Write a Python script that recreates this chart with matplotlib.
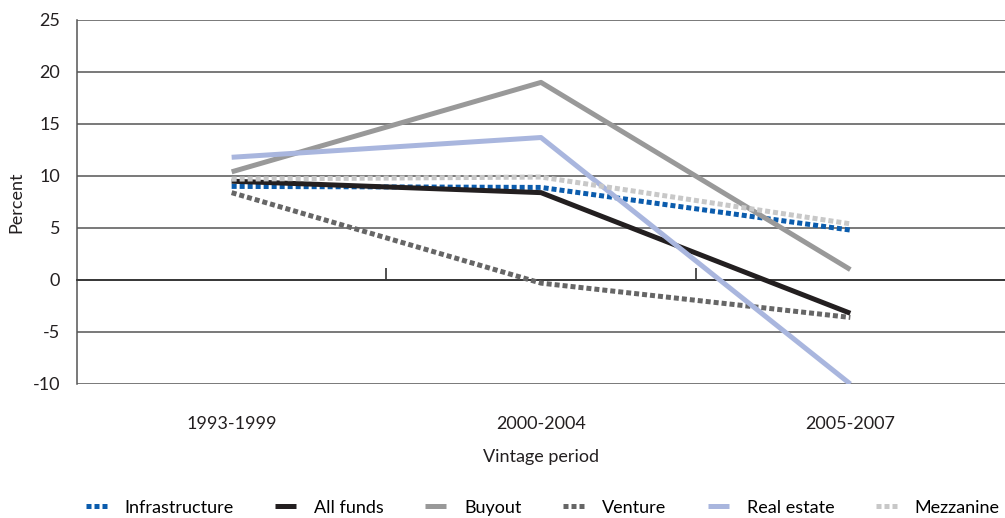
import matplotlib
matplotlib.use("Agg")
import matplotlib.pyplot as plt

periods = ["1993-1999", "2000-2004", "2005-2007"]

infrastructure = [9.0, 8.9, 4.8]
all_funds = [9.5, 8.4, -3.2]
buyout = [10.4, 19.0, 1.0]
venture = [8.4, -0.3, -3.6]
real_estate = [11.8, 13.7, -10.0]
mezzanine = [9.7, 9.9, 5.4]

names = ["Infrastructure", "All funds", "Buyout", "Venture", "Real estate", "Mezzanine"]
series = [infrastructure, all_funds, buyout, venture, real_estate, mezzanine]
colors = ["#0b5cad", "#231f20", "#999999", "#666666", "#a9b6de", "#c8c8c8"]
dotted = (0, (1, 0.6))
styles = [dotted, "-", "-", dotted, "-", dotted]

plt.rcParams["font.family"] = ["Lato", "DejaVu Sans"]
plt.rcParams["axes.unicode_minus"] = False

fig = plt.figure(figsize=(10.05, 5.18), dpi=100)
ax = fig.add_axes([0.0766, 0.2587, 0.9234, 0.7027])

x = list(range(len(periods)))
draw_order = [5, 0, 3, 2, 1, 4]
for i in draw_order:
    ax.plot(x, series[i], color=colors[i], linestyle=styles[i], lw=3.6,
            label=names[i], zorder=3 + i * 0.01, solid_capstyle="butt")

ax.set_xlim(-0.5, 2.5)
ax.set_ylim(-10, 25)
ax.set_yticks(range(-10, 30, 5))
ax.yaxis.grid(True, color="#555555", lw=1.1)
ax.set_axisbelow(True)
ax.tick_params(axis="y", length=0, pad=12, labelsize=13, colors="#231f20")
ax.set_ylabel("Percent", fontsize=13, color="#231f20", labelpad=6)

for s in ["top", "right"]:
    ax.spines[s].set_visible(False)
ax.spines["left"].set_color("#555555")
ax.spines["left"].set_linewidth(1.1)
ax.spines["bottom"].set_position(("data", 0))
ax.spines["bottom"].set_color("#333333")
ax.spines["bottom"].set_linewidth(1.3)

# boundary ticks on the zero line
ax.set_xticks([0.5, 1.5])
ax.set_xticklabels([])
ax.tick_params(axis="x", direction="in", length=9, width=1.2, color="#333333")

# category labels at the bottom of the plot area
sec = ax.secondary_xaxis("bottom")
sec.set_xticks(x)
sec.set_xticklabels(periods)
sec.tick_params(length=0, pad=23, labelsize=13, colors="#231f20")
sec.spines["bottom"].set_visible(False)
sec.set_xlabel("Vintage period", fontsize=13, color="#231f20", labelpad=12)

handles, labels = ax.get_legend_handles_labels()
order = [labels.index(n) for n in names]
fig.legend([handles[k] for k in order], [labels[k] for k in order],
           loc="center", bbox_to_anchor=(0.54, 0.02), ncol=6, frameon=False,
           fontsize=13, handlelength=1.15, columnspacing=2.3, handletextpad=1.0)

fig.savefig("out.png", dpi=100)
